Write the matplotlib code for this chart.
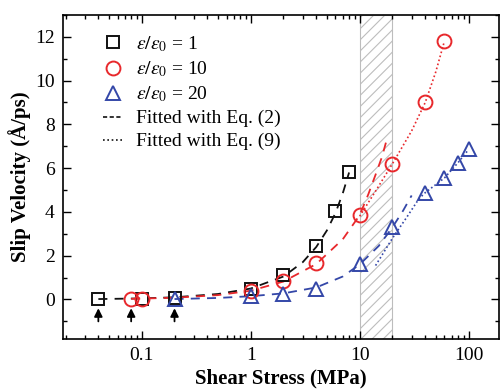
import matplotlib
matplotlib.use('Agg')
import matplotlib.pyplot as plt
from matplotlib.ticker import MultipleLocator, LogLocator, NullFormatter, FixedLocator, FixedFormatter

# Measured slip velocity for three permittivity ratios
x_e1 = [0.04, 0.1, 0.2, 1, 2, 4, 6, 8]
v_e1 = [0.02, 0.03, 0.06, 0.5, 1.1, 2.45, 4.05, 5.8]

x_e10 = [0.08, 0.1, 1, 2, 4, 10, 20, 40, 60]
v_e10 = [0.02, 0.03, 0.4, 0.85, 1.65, 3.85, 6.2, 9.0, 11.8]

x_e20 = [0.2, 1, 2, 4, 10, 20, 40, 60, 80, 100]
v_e20 = [0.02, 0.15, 0.26, 0.5, 1.6, 3.3, 4.88, 5.55, 6.25, 6.85]

# Fitted curves, Eq. (2)
fit2_x_e1 = [0.04, 0.1, 0.2, 0.5, 1, 2, 3, 4, 5, 6, 7, 8]
fit2_v_e1 = [0.02, 0.05, 0.1, 0.25, 0.5, 1.05, 1.7, 2.4, 3.15, 3.95, 4.85, 5.8]

fit2_x_e10 = [0.08, 0.2, 0.5, 1, 2, 4, 7, 10, 12, 14, 16, 17.5]
fit2_v_e10 = [0.03, 0.08, 0.2, 0.4, 0.82, 1.62, 2.75, 3.85, 4.8, 5.7, 6.5, 7.2]

fit2_x_e20 = [0.2, 0.5, 1, 2, 4, 7, 10, 15, 20, 25, 30]
fit2_v_e20 = [0.02, 0.07, 0.15, 0.28, 0.55, 1.05, 1.6, 2.45, 3.3, 4.05, 4.75]

# Fitted curves, Eq. (9)
fit9_x_e10 = [10, 14, 20, 30, 40, 50, 60]
fit9_v_e10 = [3.8, 4.95, 6.2, 7.7, 9.0, 10.4, 11.8]

fit9_x_e20 = [14, 20, 27, 35, 40, 60, 80, 100]
fit9_v_e20 = [1.55, 2.8, 3.75, 4.6, 4.88, 5.55, 6.25, 6.85]

# Onset stresses marked with arrows, and the shaded stress window
arrow_x = [0.04, 0.08, 0.2]
band = (10, 20)

labels = [r'$\varepsilon/\varepsilon_0$ = 1', r'$\varepsilon/\varepsilon_0$ = 10',
          r'$\varepsilon/\varepsilon_0$ = 20', 'Fitted with Eq. (2)', 'Fitted with Eq. (9)']

plt.rcParams['font.family'] = ['Liberation Serif', 'DejaVu Serif']
plt.rcParams['mathtext.fontset'] = 'stix'
plt.rcParams['hatch.color'] = '#c4c4c4'
plt.rcParams['hatch.linewidth'] = 0.8

BLACK = '#111111'
RED = '#e8282c'
BLUE = '#3447a8'

fig = plt.figure(figsize=(5.01, 3.90), dpi=100)
ax = fig.add_axes([0.126, 0.131, 0.870, 0.831])
ax.set_xscale('log')

ax.axvspan(band[0], band[1], facecolor='white', edgecolor='#bdbdbd',
           hatch='///', linewidth=0.8, zorder=0)

dash = (0, (5, 4))
ax.plot(fit2_x_e1, fit2_v_e1, color=BLACK, linestyle=dash, lw=1.3, zorder=2)
ax.plot(fit2_x_e10, fit2_v_e10, color=RED, linestyle=dash, lw=1.3, zorder=2)
ax.plot(fit2_x_e20, fit2_v_e20, color=BLUE, linestyle=dash, lw=1.3, zorder=2)
ax.plot(fit9_x_e10, fit9_v_e10, color=RED, linestyle=(0, (1, 1.5)), lw=1.2, zorder=2)
ax.plot(fit9_x_e20, fit9_v_e20, color=BLUE, linestyle=(0, (1, 1.5)), lw=1.2, zorder=2)

h1, = ax.plot(x_e1, v_e1, 's', ms=8.5, mfc='none', mec=BLACK, mew=1.4, zorder=3)
h2, = ax.plot(x_e10, v_e10, 'o', ms=10, mfc='none', mec=RED, mew=1.4, zorder=3)
h3, = ax.plot(x_e20, v_e20, '^', ms=10.5, mfc='none', mec=BLUE, mew=1.4, zorder=3)

for xa in arrow_x:
    ax.annotate('', xy=(xa, -0.4), xytext=(xa, -1.0),
                arrowprops=dict(arrowstyle='-|>', color='black', lw=1.3,
                                mutation_scale=12, shrinkA=0, shrinkB=0))

# legend-only handles for the fit line styles
h4, = ax.plot([], [], color=BLACK, linestyle=(0, (2.5, 1.5)), lw=1.2)
h5, = ax.plot([], [], color=BLACK, linestyle=(0, (1, 1.6)), lw=1.2)
ax.legend([h1, h2, h3, h4, h5], labels, loc='upper left',
          bbox_to_anchor=(0.092, 0.94), frameon=False, fontsize=14,
          borderpad=0, borderaxespad=0, handlelength=1.0, handletextpad=0.7,
          labelspacing=0.28, numpoints=1)

ax.set_xlim(0.019, 190)
ax.set_ylim(-1.8, 13)
ax.xaxis.set_major_locator(FixedLocator([0.1, 1, 10, 100]))
ax.xaxis.set_major_formatter(FixedFormatter(['0.1', '1', '10', '100']))
ax.xaxis.set_minor_locator(LogLocator(base=10, subs=range(2, 10)))
ax.xaxis.set_minor_formatter(NullFormatter())
ax.yaxis.set_major_locator(MultipleLocator(2))
ax.yaxis.set_minor_locator(MultipleLocator(1))

ax.tick_params(which='both', direction='in', top=True, right=True, labelsize=14, width=1.0)
ax.tick_params(which='major', length=6, pad=6)
ax.tick_params(which='minor', length=3)
for sp in ax.spines.values():
    sp.set_linewidth(1.2)

ax.set_xlabel('Shear Stress (MPa)', fontsize=15, fontweight='bold', labelpad=3)
ax.set_ylabel('Slip Velocity (Å/ps)', fontsize=15, fontweight='bold', labelpad=3)

fig.savefig('out.png', dpi=100)
plt.close(fig)
